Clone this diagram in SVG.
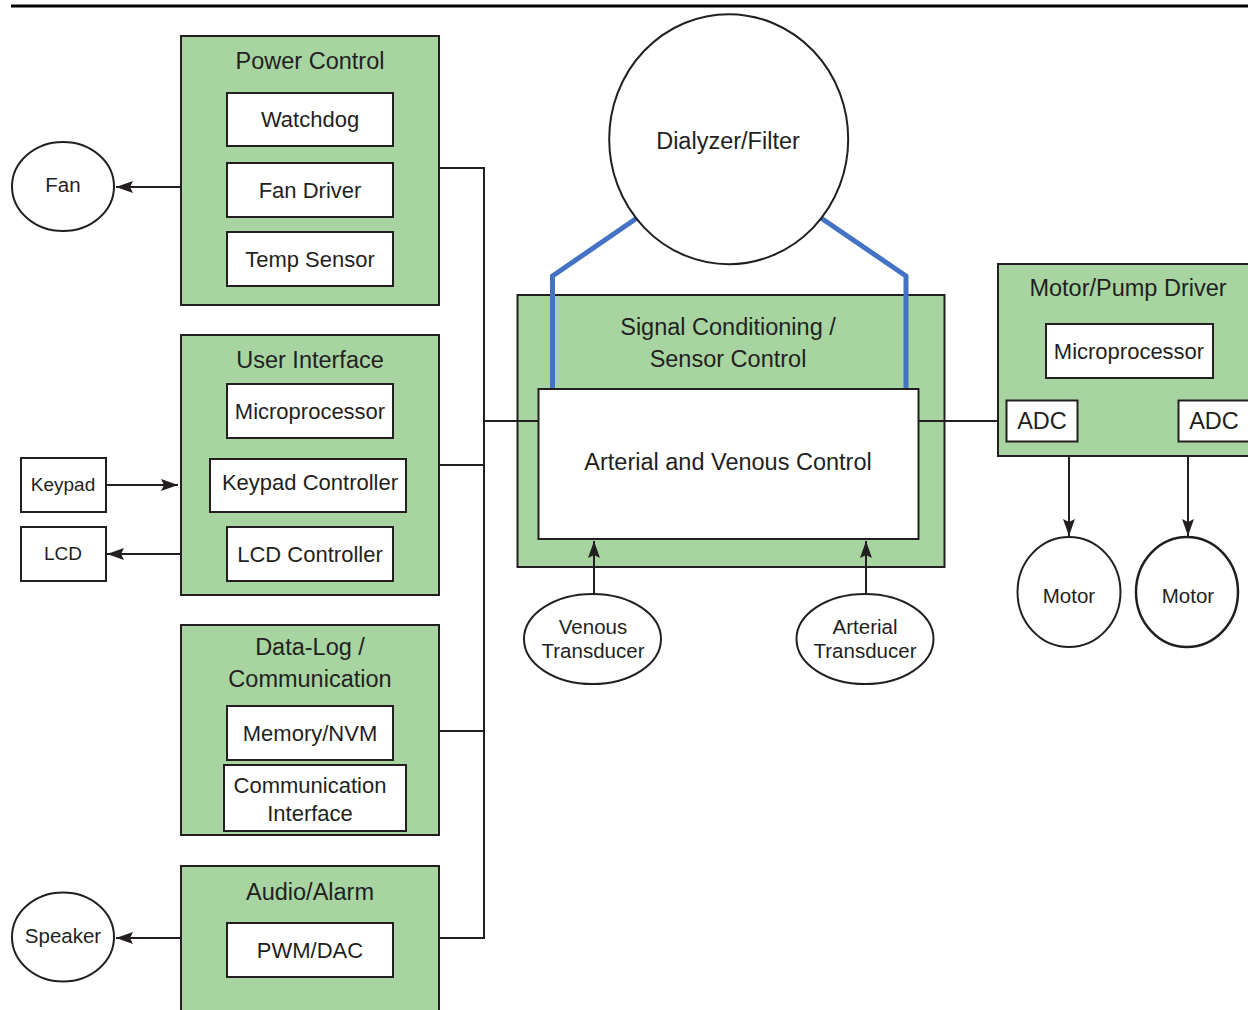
<svg xmlns="http://www.w3.org/2000/svg" width="1248" height="1010" viewBox="0 0 1248 1010">
<defs>
<style>
.grp{fill:#a7d4a0;stroke:#231f20;stroke-width:2}
.box{fill:#fff;stroke:#231f20;stroke-width:2}
.ell{fill:#fff;stroke:#231f20;stroke-width:2}
.t{font-family:"Liberation Sans",Arial,sans-serif;fill:#231f20;text-anchor:middle}
.tt{font-size:23.5px}
.ti{font-size:22px}
.th{font-size:20.5px}
.tk{font-size:19px}
.ln{fill:none;stroke:#231f20;stroke-width:2}
.blue{fill:none;stroke:#4472c4;stroke-width:5}
</style>
<marker id="ah" markerUnits="userSpaceOnUse" markerWidth="18" markerHeight="12" viewBox="0 0 18 12" refX="17" refY="6" orient="auto">
<path d="M0,0 L17,6 L0,12 L3,6 Z" fill="#231f20"/>
</marker>
</defs>
<rect width="1248" height="1010" fill="#fff"/>
<line x1="11" y1="6" x2="1248" y2="6" stroke="#000" stroke-width="3"/>

<g id="power-control">
<rect class="grp" x="181" y="36" width="258" height="269"/>
<text class="t tt" x="310" y="69">Power Control</text>
<rect class="box" x="227" y="93" width="166" height="53"/>
<text class="t ti" x="310" y="127">Watchdog</text>
<rect class="box" x="227" y="163" width="166" height="54"/>
<text class="t ti" x="310" y="198">Fan Driver</text>
<rect class="box" x="227" y="232" width="166" height="54"/>
<text class="t ti" x="310" y="267">Temp Sensor</text>
</g>

<g id="fan">
<ellipse class="ell" cx="63" cy="186.5" rx="51" ry="44.5"/>
<text class="t th" x="63" y="192">Fan</text>
</g>

<g id="user-interface">
<rect class="grp" x="181" y="335" width="258" height="260"/>
<text class="t tt" x="310" y="368">User Interface</text>
<rect class="box" x="227" y="384" width="166" height="54"/>
<text class="t ti" x="310" y="419">Microprocessor</text>
<rect class="box" x="210" y="459" width="196" height="53"/>
<text class="t ti" x="310" y="490">Keypad Controller</text>
<rect class="box" x="227" y="527" width="166" height="54"/>
<text class="t ti" x="310" y="562">LCD Controller</text>
</g>

<g id="keypad">
<rect class="box" x="21" y="458" width="85" height="54"/>
<text class="t tk" x="63" y="491">Keypad</text>
</g>
<g id="lcd">
<rect class="box" x="21" y="527" width="85" height="54"/>
<text class="t tk" x="63" y="560">LCD</text>
</g>

<g id="data-log">
<rect class="grp" x="181" y="625" width="258" height="210"/>
<text class="t tt" x="310" y="655">Data-Log /</text>
<text class="t tt" x="310" y="687">Communication</text>
<rect class="box" x="227" y="706" width="166" height="54"/>
<text class="t ti" x="310" y="741">Memory/NVM</text>
<rect class="box" x="224" y="765" width="182" height="66"/>
<text class="t ti" x="310" y="793">Communication</text>
<text class="t ti" x="310" y="821">Interface</text>
</g>

<g id="audio-alarm">
<rect class="grp" x="181" y="866" width="258" height="160"/>
<text class="t tt" x="310" y="900">Audio/Alarm</text>
<rect class="box" x="227" y="923" width="166" height="54"/>
<text class="t ti" x="310" y="958">PWM/DAC</text>
</g>

<g id="speaker">
<ellipse class="ell" cx="63" cy="937" rx="51" ry="44.5"/>
<text class="t th" x="63" y="943">Speaker</text>
</g>

<g id="signal-conditioning">
<rect class="grp" x="517.5" y="295" width="427" height="272"/>
<text class="t tt" x="728" y="335">Signal Conditioning /</text>
<text class="t tt" x="728" y="367">Sensor Control</text>
</g>

<g id="blue-lines">
<polyline class="blue" points="637,218 552.5,276 552.5,389"/>
<polyline class="blue" points="821,218 906,276 906,389"/>
</g>

<g id="dialyzer">
<ellipse class="ell" cx="728.7" cy="139.2" rx="119.5" ry="125"/>
<text class="t tt" x="728" y="149">Dialyzer/Filter</text>
</g>

<g id="arterial-venous-control">
<rect class="box" x="538.5" y="389" width="380" height="150"/>
<text class="t tt" x="728" y="470">Arterial and Venous Control</text>
</g>

<g id="venous-transducer">
<ellipse class="ell" cx="592.5" cy="639" rx="68.5" ry="45"/>
<text class="t th" x="593" y="634">Venous</text>
<text class="t th" x="593" y="658">Transducer</text>
</g>
<g id="arterial-transducer">
<ellipse class="ell" cx="865" cy="639" rx="68.5" ry="45"/>
<text class="t th" x="865" y="634">Arterial</text>
<text class="t th" x="865" y="658">Transducer</text>
</g>

<g id="motor-pump-driver">
<rect class="grp" x="998" y="264" width="262" height="192"/>
<text class="t tt" x="1128" y="296">Motor/Pump Driver</text>
<rect class="box" x="1046" y="324" width="167" height="54"/>
<text class="t ti" x="1129" y="359">Microprocessor</text>
<rect class="box" x="1006.5" y="400.5" width="71" height="41"/>
<text class="t tt" x="1042" y="429">ADC</text>
<rect class="box" x="1178.5" y="400.5" width="80" height="41"/>
<text class="t tt" x="1214" y="429">ADC</text>
</g>

<g id="motor-1">
<ellipse class="ell" cx="1069" cy="592" rx="51.5" ry="55"/>
<text class="t th" x="1069" y="603">Motor</text>
</g>
<g id="motor-2">
<ellipse class="ell" cx="1187" cy="592" rx="51" ry="55" style="stroke-width:2.5"/>
<text class="t th" x="1188" y="603">Motor</text>
</g>

<g id="connectors">
<polyline class="ln" points="439,168 484,168 484,938 439,938"/>
<line class="ln" x1="439" y1="465" x2="484" y2="465"/>
<line class="ln" x1="439" y1="731" x2="484" y2="731"/>
<line class="ln" x1="484" y1="421" x2="539" y2="421"/>
<line class="ln" x1="918" y1="421" x2="998" y2="421"/>
<line class="ln" x1="181" y1="187" x2="116" y2="187" marker-end="url(#ah)"/>
<line class="ln" x1="181" y1="938" x2="116" y2="938" marker-end="url(#ah)"/>
<line class="ln" x1="106" y1="485" x2="178" y2="485" marker-end="url(#ah)"/>
<line class="ln" x1="180" y1="554" x2="107" y2="554" marker-end="url(#ah)"/>
<line class="ln" x1="594" y1="594" x2="594" y2="541" marker-end="url(#ah)"/>
<line class="ln" x1="866" y1="594" x2="866" y2="541" marker-end="url(#ah)"/>
<line class="ln" x1="1069" y1="456" x2="1069" y2="536" marker-end="url(#ah)"/>
<line class="ln" x1="1188" y1="456" x2="1188" y2="536" marker-end="url(#ah)"/>
</g>
</svg>
